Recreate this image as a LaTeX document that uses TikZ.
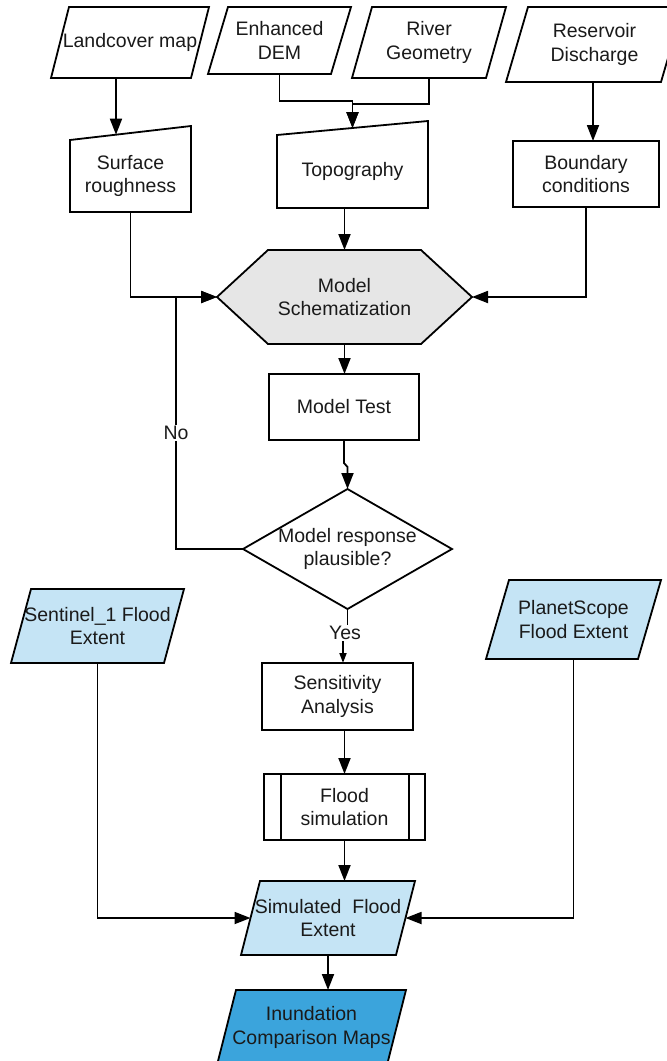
\documentclass[tikz,border=0pt]{standalone}
\usepackage{fontspec}
\setmainfont{Liberation Sans}
\usetikzlibrary{arrows.meta,calc,backgrounds}
\definecolor{ink}{HTML}{1A1A1A}
\definecolor{inblue}{HTML}{C5E4F5}
\definecolor{outblue}{HTML}{3BA4DC}
\definecolor{schem}{HTML}{E6E6E6}

\begin{document}
\begin{tikzpicture}[x=1pt,y=-1pt,
  font=\fontsize{19.5}{23.5}\selectfont,
  frame/.style={inner sep=0pt, outer sep=0pt, align=center, text=ink},
  outline/.style={draw=black, line width=1.8pt, line join=miter},
  conn/.style={draw=black, line width=1.8pt, -{Triangle[length=16pt,width=12pt]}},
  connsmall/.style={draw=black, line width=1.8pt, -{Triangle[length=10pt,width=7pt]}},
  tag/.style={fill=white, inner sep=1.5pt, text=ink}]
\useasboundingbox (0,0) rectangle (667,1061);

% ---------- inputs ----------
\node[frame, minimum width=158pt, minimum height=71pt] (lc)    at (130,42.5)   {Landcover map};
\node[frame, minimum width=143pt, minimum height=67pt] (dem)   at (279.5,40.5) {Enhanced\\DEM};
\node[frame, minimum width=154pt, minimum height=71pt] (river) at (429,42.5)   {River\\Geometry};
\node[frame, minimum width=177pt, minimum height=75pt] (res)   at (594.5,44.5) {Reservoir\\Discharge};

% ---------- pre-processing ----------
\node[frame, minimum width=121pt, minimum height=72pt] (rough) at (130.5,176)  {Surface\\roughness};
\node[frame, minimum width=151pt, minimum height=73pt] (topo)  at (352.5,171.5){Topography};
\node[frame, minimum width=146pt, minimum height=66pt] (bc)    at (586,174)    {Boundary\\conditions};

% ---------- model ----------
\node[frame, minimum width=255pt, minimum height=94pt] (ms)  at (344.5,297) {Model\\Schematization};
\node[frame, minimum width=150pt, minimum height=66pt] (mt)  at (344,407)   {Model Test};
\node[frame, minimum width=209pt, minimum height=120pt] (dec) at (347.5,549) {Model response\\plausible?};
\node[frame, minimum width=151pt, minimum height=67pt] (sa)  at (337.5,696.5) {Sensitivity\\Analysis};
\node[frame, minimum width=161pt, minimum height=66pt] (fs)  at (344.5,807) {Flood\\simulation};

% ---------- flood extents ----------
\node[frame, minimum width=173pt, minimum height=74pt] (sen) at (97.5,626)    {Sentinel\_1 Flood\\Extent};
\node[frame, minimum width=175pt, minimum height=79pt] (ps)  at (573.5,619.5) {PlanetScope\\Flood Extent};
\node[frame, minimum width=174pt, minimum height=74pt] (sim) at (328,918)     {Simulated\ \ Flood\\Extent};
\node[frame, minimum width=189pt, minimum height=75pt] (inu) at (311.5,1027.5){Inundation\\Comparison Maps};

% ---------- outlines ----------
\begin{scope}[on background layer]
  \path[outline, fill=white] ([xshift=18pt]lc.north west) -- (lc.north east) -- ([xshift=-18pt]lc.south east) -- (lc.south west) -- cycle;
  \path[outline, fill=white] ([xshift=20pt]dem.north west) -- (dem.north east) -- ([xshift=-20pt]dem.south east) -- (dem.south west) -- cycle;
  \path[outline, fill=white] ([xshift=20pt]river.north west) -- (river.north east) -- ([xshift=-20pt]river.south east) -- (river.south west) -- cycle;
  \path[outline, fill=white] ([xshift=22pt]res.north west) -- (res.north east) -- ([xshift=-22pt]res.south east) -- (res.south west) -- cycle;

  \path[outline, fill=white] (rough.south west) -- (rough.north west) -- ([yshift=14pt]rough.north east) -- (rough.south east) -- cycle;
  \path[outline, fill=white] (topo.south west) -- (topo.north west) -- ([yshift=14pt]topo.north east) -- (topo.south east) -- cycle;
  \path[outline, fill=white] (bc.north west) rectangle (bc.south east);

  \path[outline, fill=schem] (ms.west) -- ([xshift=51pt]ms.north west) -- ([xshift=-51pt]ms.north east) -- (ms.east)
        -- ([xshift=-51pt]ms.south east) -- ([xshift=51pt]ms.south west) -- cycle;
  \path[outline, fill=white] (mt.north west) rectangle (mt.south east);
  \path[outline, fill=white] (dec.north) -- (dec.east) -- (dec.south) -- (dec.west) -- cycle;
  \path[outline, fill=white] (sa.north west) rectangle (sa.south east);
  \path[outline, fill=white] (fs.north west) rectangle (fs.south east);
  \path[outline] ([xshift=17pt]fs.north west) -- ([xshift=17pt]fs.south west)
                 ([xshift=-16pt]fs.north east) -- ([xshift=-16pt]fs.south east);

  \path[outline, fill=inblue] ([xshift=20pt]sen.north west) -- (sen.north east) -- ([xshift=-20pt]sen.south east) -- (sen.south west) -- cycle;
  \path[outline, fill=inblue] ([xshift=23pt]ps.north west) -- (ps.north east) -- ([xshift=-23pt]ps.south east) -- (ps.south west) -- cycle;
  \path[outline, fill=inblue] ([xshift=19pt]sim.north west) -- (sim.north east) -- ([xshift=-19pt]sim.south east) -- (sim.south west) -- cycle;
  \path[outline, fill=outblue] ([xshift=19pt]inu.north west) -- (inu.north east) -- ([xshift=-19pt]inu.south east) -- (inu.south west) -- cycle;
\end{scope}

% entry points on the slanted tops
\coordinate (rough-in) at ($(rough.north west)!0.38!([yshift=14pt]rough.north east)$);
\coordinate (topo-in)  at ($(topo.north west)!0.5!([yshift=14pt]topo.north east)$);

% ---------- connectors ----------
\draw[conn] (lc.south -| rough-in) -- (rough-in);
\draw[conn] (dem.south) -- ([yshift=-27pt]dem.south) -| (topo-in);
\draw[conn] (river.south) -- ([yshift=-26pt]river.south) -| (topo-in);
\draw[conn] ([xshift=-1.5pt]res.south) -- ([xshift=-1.5pt]res.south |- bc.north);

\draw[conn] (topo.south -| ms.north) -- (ms.north);
\draw[conn] (rough.south) |- (ms.west);
\draw[conn] (bc.south) |- (ms.east);

\draw[conn] (ms.south) -- (ms.south |- mt.north);
\draw[conn] (mt.south) -- ([yshift=-23pt]mt.south) -- ([yshift=-27pt]mt.south -| dec.north) -- (dec.north);
\draw[conn] (dec.west) -| ([xshift=-41pt]ms.west) -- (ms.west);
\draw[connsmall] (dec.south) |- ([xshift=5.5pt,yshift=30pt]sa.north) -- ([xshift=5.5pt]sa.north);

\draw[conn] (sa.south -| fs.north) -- (fs.north);
\draw[conn] (fs.south) -- (fs.south |- sim.north);
\draw[conn] (sen.south) |- ([xshift=9.5pt]sim.west);
\draw[conn] (ps.south) |- ([xshift=-9.5pt]sim.east);
\draw[conn] (sim.south) -- (sim.south |- inu.north);

% ---------- branch labels ----------
\node[tag] (no)  at (176,433) {No};
\node[tag] (yes) at (345,633) {Yes};
\end{tikzpicture}
\end{document}
